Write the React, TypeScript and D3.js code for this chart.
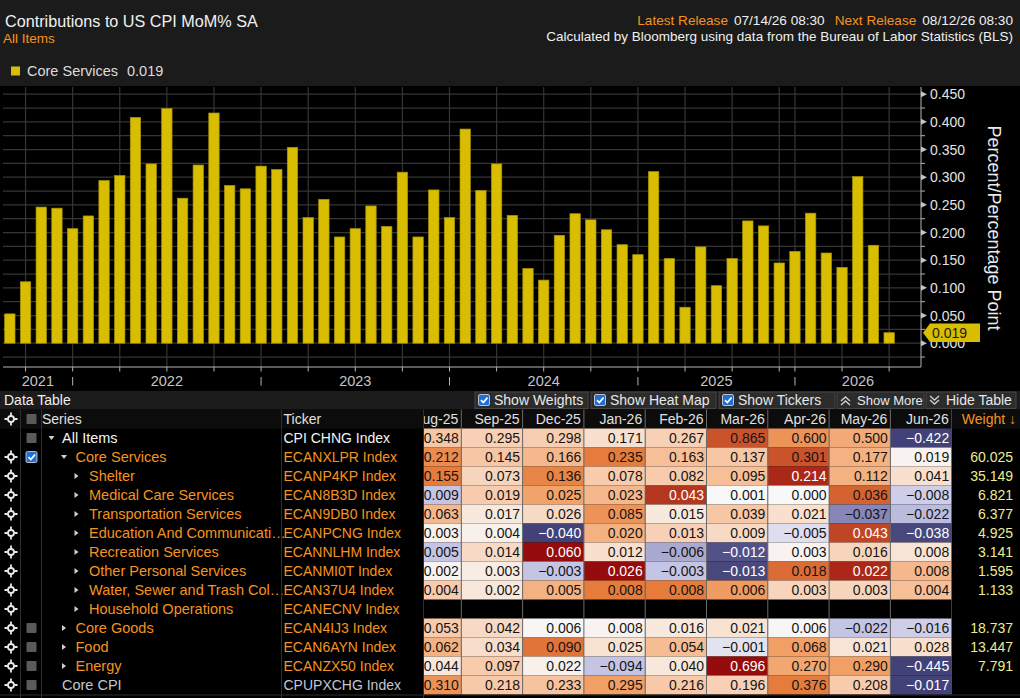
import React from 'react';
import * as d3 from 'd3';

const FONT = '"Liberation Sans", Arial, sans-serif';
const ORANGE = '#f5931f';
const BAR = '#d8bd00';

// ---------- chart data ----------
const months = [
  '2021-08', '2021-09', '2021-10', '2021-11', '2021-12',
  '2022-01', '2022-02', '2022-03', '2022-04', '2022-05', '2022-06', '2022-07', '2022-08', '2022-09', '2022-10', '2022-11', '2022-12',
  '2023-01', '2023-02', '2023-03', '2023-04', '2023-05', '2023-06', '2023-07', '2023-08', '2023-09', '2023-10', '2023-11', '2023-12',
  '2024-01', '2024-02', '2024-03', '2024-04', '2024-05', '2024-06', '2024-07', '2024-08', '2024-09', '2024-10', '2024-11', '2024-12',
  '2025-01', '2025-02', '2025-03', '2025-04', '2025-05', '2025-06', '2025-07', '2025-08', '2025-09', '2025-12',
  '2026-01', '2026-02', '2026-03', '2026-04', '2026-05', '2026-06',
];
const coreServices = [
  0.053, 0.111, 0.246, 0.244, 0.207,
  0.230, 0.294, 0.303, 0.408, 0.324, 0.424, 0.262, 0.322, 0.416, 0.285, 0.279, 0.320,
  0.314, 0.354, 0.227, 0.260, 0.192, 0.207, 0.248, 0.211, 0.309, 0.192, 0.277, 0.227,
  0.387, 0.276, 0.324, 0.231, 0.135, 0.114, 0.195, 0.234, 0.223, 0.205, 0.178, 0.160,
  0.310, 0.153, 0.065, 0.174, 0.104, 0.153, 0.221, 0.212, 0.145, 0.166,
  0.235, 0.163, 0.137, 0.301, 0.177, 0.019,
];
const yTicks = [0, 0.05, 0.1, 0.15, 0.2, 0.25, 0.3, 0.35, 0.4, 0.45];
const yGrid = [-0.025, 0, 0.025, 0.05, 0.075, 0.1, 0.125, 0.15, 0.175, 0.2, 0.225, 0.25, 0.275, 0.3, 0.325, 0.35, 0.375, 0.4, 0.425, 0.45];
const years = ['2021', '2022', '2023', '2024', '2025', '2026'];
const lastValue = 0.019;

// ---------- table data ----------
const tableColumns = ['Aug-25', 'Sep-25', 'Dec-25', 'Jan-26', 'Feb-26', 'Mar-26', 'Apr-26', 'May-26', 'Jun-26'];
const seriesNames = [
  'All Items', 'Core Services', 'Shelter', 'Medical Care Services', 'Transportation Services',
  'Education And Communicati…', 'Recreation Services', 'Other Personal Services',
  'Water, Sewer and Trash Col…', 'Household Operations', 'Core Goods', 'Food', 'Energy', 'Core CPI',
];
const seriesDepth = [0, 1, 2, 2, 2, 2, 2, 2, 2, 2, 1, 1, 1, 0];
const seriesExpander = ['open', 'open', 'closed', 'closed', 'closed', 'closed', 'closed', 'closed', 'closed', 'closed', 'closed', 'closed', 'closed', 'none'];
const seriesCheck = ['gray', 'checked', 'none', 'none', 'none', 'none', 'none', 'none', 'none', 'none', 'gray', 'gray', 'gray', 'gray'];
const tickers = [
  'CPI CHNG Index', 'ECANXLPR Index', 'ECANP4KP Index', 'ECAN8B3D Index', 'ECAN9DB0 Index',
  'ECANPCNG Index', 'ECANNLHM Index', 'ECANMI0T Index', 'ECAN37U4 Index', 'ECANECNV Index',
  'ECAN4IJ3 Index', 'ECAN6AYN Index', 'ECANZX50 Index', 'CPUPXCHG Index',
];
const tableValues: (number[] | null)[] = [
  [0.348, 0.295, 0.298, 0.171, 0.267, 0.865, 0.600, 0.500, -0.422],
  [0.212, 0.145, 0.166, 0.235, 0.163, 0.137, 0.301, 0.177, 0.019],
  [0.155, 0.073, 0.136, 0.078, 0.082, 0.095, 0.214, 0.112, 0.041],
  [0.009, 0.019, 0.025, 0.023, 0.043, 0.001, 0.000, 0.036, -0.008],
  [0.063, 0.017, 0.026, 0.085, 0.015, 0.039, 0.021, -0.037, -0.022],
  [0.003, 0.004, -0.040, 0.020, 0.013, 0.009, -0.005, 0.043, -0.038],
  [0.005, 0.014, 0.060, 0.012, -0.006, -0.012, 0.003, 0.016, 0.008],
  [0.002, 0.003, -0.003, 0.026, -0.003, -0.013, 0.018, 0.022, 0.008],
  [0.004, 0.002, 0.005, 0.008, 0.008, 0.006, 0.003, 0.003, 0.004],
  null,
  [0.053, 0.042, 0.006, 0.008, 0.016, 0.021, 0.006, -0.022, -0.016],
  [0.062, 0.034, 0.090, 0.025, 0.054, -0.001, 0.068, 0.021, 0.028],
  [0.044, 0.097, 0.022, -0.094, 0.040, 0.696, 0.270, 0.290, -0.445],
  [0.310, 0.218, 0.233, 0.295, 0.216, 0.196, 0.376, 0.208, -0.017],
];
// heat-map scores (standardised deviation shown by the heat map colouring)
const heatScores: (number[] | null)[] = [
  [1.0, 0.8, 0.85, 0.5, 0.8, 2.5, 1.7, 1.4, -2.8],
  [1.8, 1.0, 1.2, 2.0, 1.1, 1.0, 2.5, 1.3, 0.1],
  [2.0, 0.7, 1.9, 0.9, 0.9, 1.1, 2.8, 1.3, 0.5],
  [-1.0, 0.9, 1.5, 1.2, 2.7, 0, 0, 2.3, -0.8],
  [1.2, 0.3, 0.6, 1.7, 0.3, 1.0, 0.5, -1.7, -1.1],
  [0.15, 0.15, -2.8, 1.3, 0.8, 0.6, -0.5, 2.6, -2.7],
  [-1.0, 0.6, 3.0, 0.5, -1.3, -2.5, 0.1, 0.7, 0.4],
  [0.1, 0.25, -1.0, 3.0, -1.0, -2.7, 2.2, 2.8, 1.2],
  [0.9, 0.35, 1.3, 2.0, 2.0, 1.6, 0.7, 0.7, 1.1],
  null,
  [0.9, 0.6, 0.05, 0.1, 0.3, 0.45, 0.05, -1.0, -0.8],
  [1.3, 0.55, 2.1, 0.45, 1.15, -0.4, 1.55, 0.4, 0.5],
  [0.35, 0.9, 0.15, -1.0, 0.35, 3.0, 1.45, 1.55, -2.8],
  [1.7, 0.95, 1.05, 1.55, 0.95, 0.8, 2.0, 0.9, -2.8],
];
const weights = [null, 60.025, 35.149, 6.821, 6.377, 4.925, 3.141, 1.595, 1.133, null, 18.737, 13.447, 7.791, null];
const buttons = ['Show Weights', 'Show Heat Map', 'Show Tickers', 'Show More', 'Hide Table'];

// ---------- layout ----------
const W = 1020, H = 698;
const PL = 3, PR = 921, PT = 87, PB = 367;

const heatColor = d3.scaleLinear<string>()
  .domain([-3, -2, -1, 0, 1, 1.5, 2, 2.5, 3])
  .range(['#38386c', '#6c6ca6', '#c4c4e4', '#f8f8f8', '#f7c6a4', '#f2a36a', '#e67c3c', '#ca532c', '#960b0b'])
  .clamp(true);

function Crosshair({ x, y }: { x: number; y: number }) {
  return (
    <g transform={`translate(${x},${y})`}>
      <circle r={3} fill="none" stroke="#e8e8e8" strokeWidth={1.8} />
      <path d="M0,-6.5V-3.2M0,3.2V6.5M-6.5,0H-3.2M3.2,0H6.5" stroke="#e8e8e8" strokeWidth={1.8} />
    </g>
  );
}

function CheckBox({ x, y, kind }: { x: number; y: number; kind: string }) {
  if (kind === 'none') return null;
  if (kind === 'gray') return <rect x={x} y={y} width={10} height={10} rx={1} fill="#5a5a5a" />;
  return (
    <g>
      <rect x={x - 0.5} y={y - 0.5} width={11} height={11} rx={1.5} fill="#1f6fd6" stroke="#e0e0e0" strokeWidth={0.8} />
      <path d={`M${x + 2},${y + 5.2} L${x + 4.3},${y + 7.6} L${x + 8.5},${y + 2.6}`} fill="none" stroke="#fff" strokeWidth={1.7} />
    </g>
  );
}

export default function App() {
  const x = d3.scalePoint<string>().domain(months).range([2, 897]).padding(0.5);
  const step = x.step();
  const bw = step * 0.66;
  const y = d3.scaleLinear().domain([-0.043, 0.463]).range([PB, PT]);
  const fmt3 = d3.format('.3f');

  const quarterMonths = months.filter((m) => ['03', '06', '09', '12'].includes(m.slice(5)));
  const yearSeps = months.filter((m) => m.slice(5) === '12');
  const yearLabels = years.map((yr) => {
    const prev = months.find((m) => m === `${+yr - 1}-12`);
    const cur = months.find((m) => m === `${yr}-12`);
    const a = prev ? (x(prev) as number) : PL;
    const b = cur ? (x(cur) as number) : PR;
    return { yr, cx: (a + b) / 2 };
  });

  // table geometry
  const rowH = 19;
  const rowTop0 = 428.5;
  const colW = 61.3;
  const col0 = 400;
  const clipL = 424;
  const colRight = (c: number) => col0 + (c + 1) * colW;
  const tableRight = colRight(tableColumns.length - 1);

  const yv = y(lastValue);

  return (
    <div style={{ position: 'absolute', left: 0, top: 0, width: W, height: H }}>
      <svg width={W} height={H} style={{ display: 'block', background: '#000', fontFamily: FONT }}>
        <defs>
          <clipPath id="dataClip">
            <rect x={clipL} y={400} width={tableRight - clipL} height={300} />
          </clipPath>
        </defs>

        {/* header band */}
        <rect x={0} y={0} width={W} height={PT - 1} fill="#1b1b1b" />
        <text x={5} y={26.5} fontSize={16.2} fill="#f0f0f0">Contributions to US CPI MoM% SA</text>
        <text x={3} y={42.5} fontSize={13.5} fill={ORANGE}>All Items</text>
        <text x={1013} y={24.5} fontSize={13.6} textAnchor="end" xmlSpace="preserve">
          <tspan fill={ORANGE}>Latest Release</tspan>
          <tspan fill="#f0f0f0" dx={6}>07/14/26 08:30</tspan>
          <tspan fill={ORANGE} dx={10}>Next Release</tspan>
          <tspan fill="#f0f0f0" dx={6}>08/12/26 08:30</tspan>
        </text>
        <text x={1013} y={41} fontSize={13.5} textAnchor="end" fill="#f0f0f0">
          Calculated by Bloomberg using data from the Bureau of Labor Statistics (BLS)
        </text>
        <rect x={11} y={66.5} width={9} height={9} fill={BAR} />
        <text x={27} y={76} fontSize={14.5} fill="#dcdcdc">Core Services</text>
        <text x={127} y={76} fontSize={14.5} fill="#dcdcdc">{fmt3(lastValue)}</text>

        {/* plot grid */}
        <rect x={PL} y={PT} width={PR - PL} height={PB - PT} fill="#000" />
        {yGrid.map((v) => (
          <line key={`hg${v}`} x1={PL} x2={PR} y1={y(v)} y2={y(v)} stroke="#353535" strokeWidth={1.2} />
        ))}
        {quarterMonths.map((m) => (
          <line key={`vg${m}`} x1={x(m)} x2={x(m)} y1={PT} y2={PB} stroke="#353535" strokeWidth={1.2} />
        ))}

        {/* bars */}
        {months.map((m, i) => {
          const v = coreServices[i];
          return (
            <rect key={m} x={(x(m) as number) - bw / 2} y={y(Math.max(0, v))} width={bw}
              height={Math.abs(y(v) - y(0))} fill={BAR} stroke="#a99400" strokeWidth={0.7} />
          );
        })}

        {/* x axis */}
        <line x1={PL} x2={PR} y1={PB} y2={PB} stroke="#b4b4b4" strokeWidth={1} />
        {quarterMonths.map((m) => (
          <line key={`xt${m}`} x1={x(m)} x2={x(m)} y1={PB} y2={PB + 4.5} stroke="#b4b4b4" strokeWidth={1} />
        ))}
        {yearSeps.map((m) => (
          <line key={`ys${m}`} x1={x(m)} x2={x(m)} y1={377} y2={385.5} stroke="#b4b4b4" strokeWidth={1} />
        ))}
        {yearLabels.map((d) => (
          <text key={d.yr} x={d.cx} y={386} fontSize={14.5} textAnchor="middle" fill="#c4c4c4">{d.yr}</text>
        ))}

        {/* y axis */}
        <line x1={PR} x2={PR} y1={PT} y2={PB} stroke="#b4b4b4" strokeWidth={1} />
        {yGrid.filter((v) => !yTicks.some((t) => Math.abs(t - v) < 1e-9)).map((v) => (
          <line key={`mt${v}`} x1={PR} x2={PR + 4} y1={y(v)} y2={y(v)} stroke="#b4b4b4" strokeWidth={1} />
        ))}
        {yTicks.map((t) => (
          <g key={`yt${t}`}>
            <path d={`M${PR},${y(t) - 3} L${PR + 6},${y(t)} L${PR},${y(t) + 3} Z`} fill="#c4c4c4" />
            <text x={930} y={y(t) + 5} fontSize={14} fill="#e2e2e2">{fmt3(t)}</text>
          </g>
        ))}
        <text transform={`translate(988,228) rotate(90)`} fontSize={18} textAnchor="middle" fill="#eaeaea">
          Percent/Percentage Point
        </text>
        <path d={`M${PR + 2},${yv} L${930},${yv - 9.3} L${980},${yv - 9.3} L${980},${yv + 9.3} L${930},${yv + 9.3} Z`} fill={BAR} />
        <text x={932} y={yv + 5} fontSize={14} fill="#1a1a1a">{fmt3(lastValue)}</text>

        {/* data table bar */}
        <rect x={0} y={391} width={W} height={18.5} fill="#1c1c1c" />
        <text x={4} y={405} fontSize={14} fill="#f0f0f0">Data Table</text>
        {buttons.map((b, i) => {
          const bx = [475, 591, 719, 837, 926][i];
          const bwid = [113, 125, 116, 87, 90][i];
          const isCheck = i < 3;
          return (
            <g key={b}>
              <rect x={bx} y={392} width={bwid} height={16.5} fill="#2c2c2c" stroke="#454545" strokeWidth={1} />
              {isCheck ? (
                <CheckBox x={bx + 4} y={395} kind="checked" />
              ) : (
                <path d={i === 3
                  ? `M${bx + 4},${401} L${bx + 8.5},${397} L${bx + 13},${401} M${bx + 4},${405} L${bx + 8.5},${401} L${bx + 13},${405}`
                  : `M${bx + 4},${396} L${bx + 8.5},${400} L${bx + 13},${396} M${bx + 4},${400} L${bx + 8.5},${404} L${bx + 13},${400}`}
                  fill="none" stroke="#d0d0d0" strokeWidth={1.4} />
              )}
              <text x={bx + (isCheck ? 19 : 20)} y={405} fontSize={i === 3 ? 13 : 14} fill="#e8e8e8">{b}</text>
            </g>
          );
        })}

        {/* header row */}
        <rect x={0} y={409.5} width={W} height={19} fill="#0c0c0c" />
        <Crosshair x={11} y={419} />
        <CheckBox x={26.5} y={414} kind="gray" />
        <text x={42} y={424} fontSize={14} fill="#e0e0e0">Series</text>
        <text x={283.5} y={424} fontSize={14} fill="#e0e0e0">Ticker</text>
        <g clipPath="url(#dataClip)">
          {tableColumns.map((c, ci) => (
            <text key={c} x={colRight(ci) - 3} y={424} fontSize={14} textAnchor="end" fill="#e0e0e0">{c}</text>
          ))}
        </g>
        <text x={1016} y={424} fontSize={14} textAnchor="end" fill={ORANGE}>Weight ↓</text>

        {/* rows */}
        {seriesNames.map((name, ri) => {
          const top = rowTop0 + ri * rowH;
          const mid = top + rowH / 2;
          const d = seriesDepth[ri];
          const exp = seriesExpander[ri];
          const txtX = 62 + 13.5 * d;
          const triX = 51.5 + 12.5 * d;
          const nameColor = ri === 0 ? '#f4f4f4' : ri === 13 ? '#c0c6d4' : ORANGE;
          const vals = tableValues[ri];
          const scores = heatScores[ri];
          return (
            <g key={name}>
              {ri > 0 && <Crosshair x={11} y={mid} />}
              <CheckBox x={26.5} y={mid - 5} kind={seriesCheck[ri]} />
              {exp === 'open' && <path d={`M${triX - 3},${mid - 2} L${triX + 3},${mid - 2} L${triX},${mid + 2} Z`} fill="#cfcfcf" />}
              {exp === 'closed' && <path d={`M${triX - 2},${mid - 3} L${triX + 2},${mid} L${triX - 2},${mid + 3} Z`} fill="#cfcfcf" />}
              <text x={txtX} y={top + 14.5} fontSize={14.5} fill={nameColor}>{name}</text>
              <text x={283.5} y={top + 14.5} fontSize={14} fill={nameColor}>{tickers[ri]}</text>
              <g clipPath="url(#dataClip)">
                {vals && scores && vals.map((v, ci) => {
                  const fill = heatColor(scores[ci]);
                  const dark = d3.hsl(fill).l < 0.455;
                  return (
                    <g key={ci}>
                      <rect x={colRight(ci) - colW} y={top} width={colW} height={rowH} fill={fill} />
                      <text x={colRight(ci) - 2.5} y={top + 14.5} fontSize={14} textAnchor="end" fill={dark ? '#ffffff' : '#151515'}>
                        {fmt3(v)}
                      </text>
                    </g>
                  );
                })}
              </g>
              {weights[ri] != null && (
                <text x={1013} y={top + 14.5} fontSize={14} textAnchor="end" fill="#ecec8e">{fmt3(weights[ri] as number)}</text>
              )}
            </g>
          );
        })}

        {/* table separators */}
        <g clipPath="url(#dataClip)">
          {tableColumns.map((c, ci) => (
            <line key={`cs${c}`} x1={colRight(ci)} x2={colRight(ci)} y1={409.5} y2={rowTop0 + rowH * seriesNames.length}
              stroke="#6a6a6a" strokeWidth={1} />
          ))}
        </g>
        {[20.5, 41.5, 281.5, 423.5].map((sx) => (
          <line key={`ls${sx}`} x1={sx} x2={sx} y1={409.5} y2={H} stroke="#2e2e2e" strokeWidth={1} />
        ))}
        <line x1={0} x2={W} y1={rowTop0 + rowH * seriesNames.length + 0.5} y2={rowTop0 + rowH * seriesNames.length + 0.5} stroke="#2e2e2e" />
      </svg>
    </div>
  );
}
